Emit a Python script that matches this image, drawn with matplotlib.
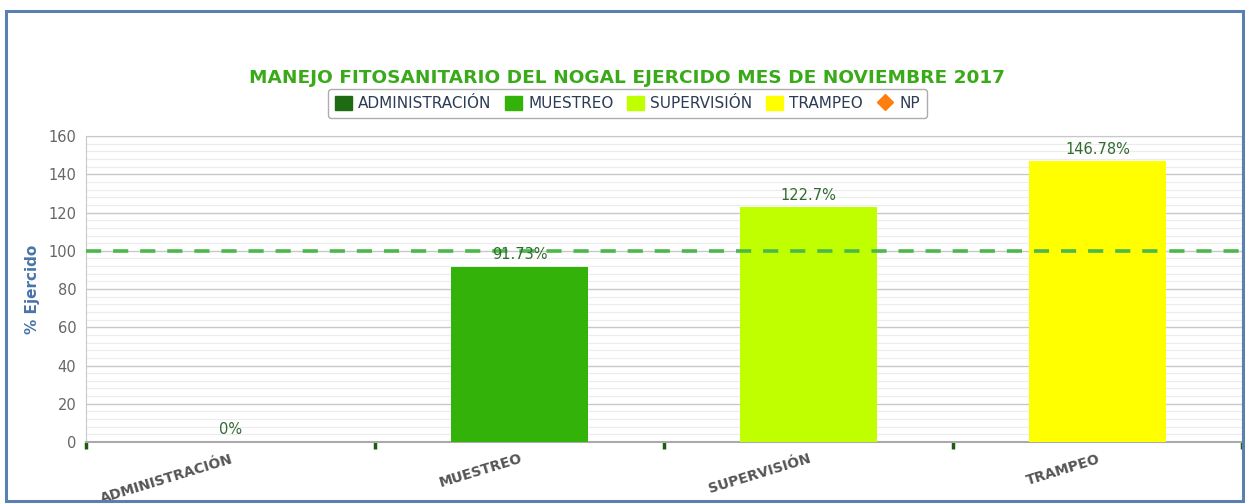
import matplotlib

matplotlib.use("Agg")
import matplotlib.pyplot as plt
from matplotlib.lines import Line2D
from matplotlib.patches import Patch, Rectangle
from matplotlib.ticker import MultipleLocator

categories = ["ADMINISTRACIÓN", "MUESTREO", "SUPERVISIÓN", "TRAMPEO"]
values = [0, 91.73, 122.7, 146.78]
labels = ["0%", "91.73%", "122.7%", "146.78%"]
colors = ["#1f6b14", "#33b20a", "#bfff00", "#ffff00"]
np_color = "#ff7f0e"
target = 100

fig = plt.figure(figsize=(12.49, 5.04), dpi=100)
ax = fig.add_axes([0.0689, 0.123, 0.9255, 0.607])

x = range(len(categories))
ax.bar(x, values, width=0.475, color=colors, zorder=3)
for xi, v, lab in zip(x, values, labels):
    ax.text(xi, v + 2.5, lab, ha="center", va="bottom", fontsize=10.5,
            color="#2f6b2f", zorder=5)

# target line at 100 %
ax.axhline(target, color="#4cb84c", lw=2.6, ls=(0, (4.2, 3.3)), zorder=4)

ax.set_xlim(-0.5, 3.5)
ax.set_ylim(0, 160)
ax.yaxis.set_major_locator(MultipleLocator(20))
ax.yaxis.set_minor_locator(MultipleLocator(4))
ax.grid(which="major", axis="y", color="#c8c8c8", lw=1.0, zorder=0)
ax.grid(which="minor", axis="y", color="#ececec", lw=0.8, zorder=0)
ax.tick_params(axis="y", which="both", length=0, labelsize=10.5,
               labelcolor="#666666", pad=7)

ax.set_xticks([-0.5, 0.5, 1.5, 2.5, 3.5])
ax.set_xticklabels([])
ax.tick_params(axis="x", which="major", length=5, width=2.5, color="#1f5a14",
               direction="out")
ax.set_xticks(list(x), minor=True)
ax.set_xticklabels(categories, minor=True, rotation=17, ha="right",
                   rotation_mode="anchor", fontsize=10, fontweight="bold",
                   color="#555555")
ax.tick_params(axis="x", which="minor", length=0, pad=7)

for side in ["top", "right", "left"]:
    ax.spines[side].set_color("#c8c8c8")
ax.spines["bottom"].set_color("#aaaaaa")
ax.spines["bottom"].set_linewidth(1.5)

ax.set_ylabel("% Ejercido", fontsize=11, fontweight="bold", color="#4a74a8",
              labelpad=6)

fig.text(0.502, 0.845, "MANEJO FITOSANITARIO DEL NOGAL EJERCIDO MES DE NOVIEMBRE 2017",
         ha="center", va="center", fontsize=13.3, fontweight="bold", color="#3aaa1a")

handles = [Patch(facecolor=c, edgecolor=c) for c in colors]
handles.append(Line2D([], [], marker="D", color=np_color, ls="none", markersize=8))
leg = fig.legend(handles, categories + ["NP"], loc="center",
                 bbox_to_anchor=(0.5025, 0.795), ncol=5, fontsize=11,
                 frameon=True, handlelength=1.1, handleheight=1.1,
                 handletextpad=0.4, columnspacing=0.9, borderpad=0.45,
                 fancybox=True)
leg.get_frame().set_edgecolor("#999999")
leg.get_frame().set_linewidth(1.0)
for t in leg.get_texts():
    t.set_color("#2d3b55")

fig.patches.append(Rectangle((0.005, 0.006), 0.99, 0.972, transform=fig.transFigure,
                             fill=False, edgecolor="#5a7fb0", lw=2.2))

fig.savefig("out.png", dpi=100)
